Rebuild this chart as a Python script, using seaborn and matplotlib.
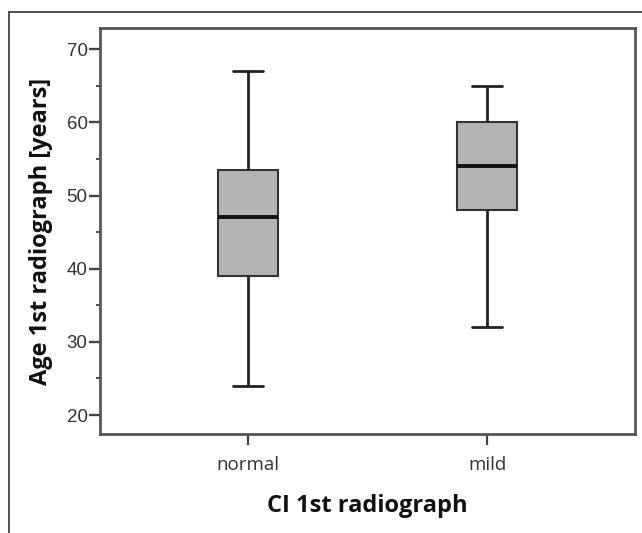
import matplotlib
matplotlib.use('Agg')
import matplotlib.pyplot as plt
from matplotlib.lines import Line2D
from matplotlib.ticker import MultipleLocator
import seaborn as sns
import pandas as pd

# five-number summaries (min, Q1, median, Q3, max)
categories = ['normal', 'mild']
normal_ages = [24, 39, 47, 53.5, 67]
mild_ages = [32, 48, 54, 60, 65]
y_ticks = [20, 30, 40, 50, 60, 70]

df = pd.DataFrame({
    'group': ['normal'] * len(normal_ages) + ['mild'] * len(mild_ages),
    'age': normal_ages + mild_ages,
})

sns.set_style('white')
plt.rcParams['font.family'] = ['Liberation Sans', 'DejaVu Sans']

fig = plt.figure(figsize=(6.42, 5.33), dpi=100)
ax = fig.add_axes([0.1558, 0.1857, 0.8332, 0.7618])

sns.boxplot(data=df, x='group', y='age', order=categories, ax=ax,
            width=0.25, color='#b4b4b4', whis=1.5,
            boxprops=dict(facecolor='#b4b4b4', edgecolor='#333333', linewidth=1.5),
            medianprops=dict(color='#111111', linewidth=2.8),
            whiskerprops=dict(color='#222222', linewidth=2.0),
            capprops=dict(color='#222222', linewidth=2.0),
            showfliers=False)

# Axes limits and ticks
ax.set_xlim(-0.615, 1.615)
ax.set_ylim(17.4, 72.9)
ax.set_yticks(y_ticks)
ax.yaxis.set_minor_locator(MultipleLocator(5))
ax.tick_params(axis='y', which='major', direction='out', length=8, width=1.7,
               color='#444444', labelsize=13.5, labelcolor='#333333', pad=1, left=True)
ax.tick_params(axis='y', which='minor', direction='out', length=3, width=1.3,
               color='#444444', left=True)
ax.tick_params(axis='x', direction='out', length=8, width=1.6, color='#444444',
               labelsize=13.5, labelcolor='#333333', pad=7.5, bottom=True)
for lab in ax.get_xticklabels():
    lab.set_family(['Open Sans', 'DejaVu Sans'])

for sp in ax.spines.values():
    sp.set_visible(True)
    sp.set_color('#555555')
    sp.set_linewidth(2.0)

# Labels
ax.set_xlabel('CI 1st radiograph', fontsize=17, fontweight='bold',
              family=['Open Sans', 'DejaVu Sans'], labelpad=15, color='#111111')
ax.set_ylabel('Age 1st radiograph [years]', fontsize=17, fontweight='bold',
              family=['Open Sans', 'DejaVu Sans'], labelpad=10, color='#111111')

# outer frame (top and left edges only)
fig.add_artist(Line2D([9 / 642, 1.0], [1 - 12 / 533, 1 - 12 / 533],
                      transform=fig.transFigure, color='#333333', linewidth=1.2))
fig.add_artist(Line2D([9 / 642, 9 / 642], [0.0, 1 - 12 / 533],
                      transform=fig.transFigure, color='#333333', linewidth=1.2))

plt.savefig('out.png', dpi=100)
